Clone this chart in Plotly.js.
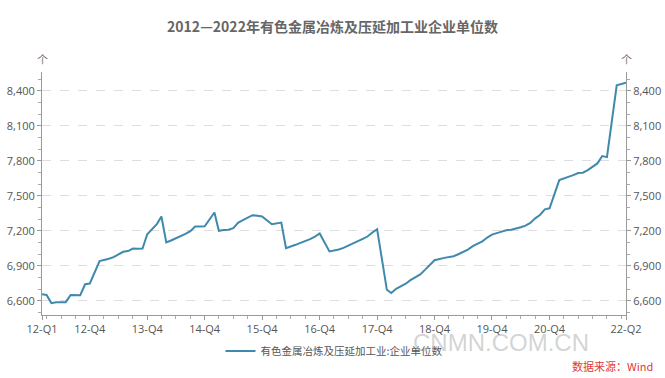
<!DOCTYPE html>
<html>
<head>
<meta charset="utf-8">
<script src="https://cdn.plot.ly/plotly-3.0.1.min.js"></script>
<style>html,body{margin:0;padding:0;background:#fff;}#chart{width:665px;height:378px;}</style>
</head>
<body>
<div id="chart"></div>
<script>
// Monthly observations (January not reported)
const months = [
 '2012-02','2012-03','2012-04','2012-05','2012-06','2012-07','2012-08','2012-09','2012-10','2012-11','2012-12',
 '2013-02','2013-03','2013-04','2013-05','2013-06','2013-07','2013-08','2013-09','2013-10','2013-11','2013-12',
 '2014-02','2014-03','2014-04','2014-05','2014-06','2014-07','2014-08','2014-09','2014-10','2014-11','2014-12',
 '2015-02','2015-03','2015-04','2015-05','2015-06','2015-07','2015-08','2015-09','2015-10','2015-11','2015-12',
 '2016-02','2016-03','2016-04','2016-05','2016-06','2016-07','2016-08','2016-09','2016-10','2016-11','2016-12',
 '2017-02','2017-03','2017-04','2017-05','2017-06','2017-07','2017-08','2017-09','2017-10','2017-11','2017-12',
 '2018-02','2018-03','2018-04','2018-05','2018-06','2018-07','2018-08','2018-09','2018-10','2018-11','2018-12',
 '2019-02','2019-03','2019-04','2019-05','2019-06','2019-07','2019-08','2019-09','2019-10','2019-11','2019-12',
 '2020-02','2020-03','2020-04','2020-05','2020-06','2020-07','2020-08','2020-09','2020-10','2020-11','2020-12',
 '2021-02','2021-03','2021-04','2021-05','2021-06','2021-07','2021-08','2021-09','2021-10','2021-11','2021-12',
 '2022-02','2022-03','2022-04'
];
const enterprises = [
 6655,6650,6580,6588,6588,6588,6650,6650,6648,6742,6748,
 6940,6948,6960,6974,7000,7020,7026,7048,7046,7048,7170,
 7260,7323,7100,7117,7134,7151,7174,7197,7237,7237,7238,
 7357,7200,7206,7209,7223,7269,7291,7311,7334,7329,7323,
 7257,7266,7271,7051,7063,7080,7097,7111,7129,7151,7177,
 7023,7029,7040,7054,7071,7091,7111,7131,7151,7186,7214,
 6694,6666,6703,6723,6746,6777,6803,6826,6865,6910,6948,
 6968,6976,6982,6999,7019,7039,7068,7088,7110,7142,7167,
 7193,7205,7210,7219,7230,7245,7267,7307,7336,7384,7393,
 7635,7647,7664,7678,7695,7698,7721,7747,7778,7841,7832,
 8448,8460,8471
];
const tickDates = ['2012-02-01','2012-12-01','2013-12-01','2014-12-01','2015-12-01','2016-12-01','2017-12-01','2018-12-01','2019-12-01','2020-12-01','2022-04-01'];
const tickLabels = ['12-Q1','12-Q4','13-Q4','14-Q4','15-Q4','16-Q4','17-Q4','18-Q4','19-Q4','20-Q4','22-Q2'];
const seriesName = '有色金属冶炼及压延加工业:企业单位数';
const titleText = '2012—2022年有色金属冶炼及压延加工业企业单位数';

const font = '"Open Sans", "Noto Sans CJK SC", sans-serif';
const cjk = '"Noto Sans CJK SC", "Noto Sans", sans-serif';
const yRange = [6478, 8562];

const yCommon = {
  range: yRange, tick0: 6600, dtick: 300, tickformat: ',d',
  showline: true, linecolor: '#9a9a9a', linewidth: 1,
  ticks: 'outside', ticklen: 4, tickcolor: '#9a9a9a',
  tickfont: {family: font, size: 11, color: '#555'},
  minor: {dtick: 100, tick0: 6600, ticks: 'outside', ticklen: 3, tickcolor: '#aaa', showgrid: false},
  zeroline: false, fixedrange: true
};

const data = [{
  x: months.map(m => m + '-01'), y: enterprises, type: 'scatter', mode: 'lines',
  name: seriesName, line: {color: '#3f89ad', width: 2}
}];

const layout = {
  width: 665, height: 378,
  margin: {l: 42, r: 39, t: 72, b: 63},
  paper_bgcolor: '#fff', plot_bgcolor: '#fff',
  title: {text: '<b>' + titleText + '</b>', x: 0.5, xanchor: 'center', y: 0.928, yanchor: 'middle',
          font: {family: cjk, size: 14, color: '#666'}},
  xaxis: {
    type: 'date', range: ['2012-02-01', '2022-04-01'],
    tickmode: 'array', tickvals: tickDates, ticktext: tickLabels,
    showline: true, linecolor: '#9a9a9a', linewidth: 1,
    ticks: 'outside', ticklen: 4, tickcolor: '#9a9a9a',
    tickfont: {family: font, size: 11, color: '#555'},
    minor: {dtick: 'M3', tick0: '2011-12-01', ticks: 'outside', ticklen: 3, tickcolor: '#aaa', showgrid: false},
    showgrid: false, zeroline: false
  },
  yaxis: Object.assign({}, yCommon, {side: 'left', showgrid: true, gridcolor: '#dedede', griddash: 'dash', gridwidth: 1}),
  yaxis2: Object.assign({}, yCommon, {side: 'right', overlaying: 'y', showgrid: false}),
  showlegend: true,
  legend: {orientation: 'h', x: 0.5, xanchor: 'center', y: -0.148, yanchor: 'middle',
           font: {family: cjk, size: 10.5, color: '#555'}, itemwidth: 30},
  annotations: [
    {text: '个', xref: 'paper', yref: 'paper', x: 0, y: 1.055, showarrow: false, xanchor: 'center', yanchor: 'middle',
     font: {family: cjk, size: 11, color: '#777'}},
    {text: '个', xref: 'paper', yref: 'paper', x: 1, y: 1.055, showarrow: false, xanchor: 'center', yanchor: 'middle',
     font: {family: cjk, size: 11, color: '#777'}},
    {text: 'CNMN.COM.CN', xref: 'paper', yref: 'paper', x: 0.786, y: -0.112, showarrow: false, xanchor: 'center', yanchor: 'middle',
     font: {family: '"Liberation Sans", sans-serif', size: 24, color: 'rgba(170,170,170,0.5)'}},
    {text: '数据来源：Wind', xref: 'paper', yref: 'paper', x: 1.05, y: -0.21, showarrow: false, xanchor: 'right', yanchor: 'middle',
     font: {family: cjk, size: 11, color: '#e0383c'}}
  ]
};

Plotly.newPlot('chart', data.concat([{x: [], y: [], yaxis: 'y2', showlegend: false, hoverinfo: 'skip'}]), layout, {displayModeBar: false, staticPlot: true});
</script>
</body>
</html>
